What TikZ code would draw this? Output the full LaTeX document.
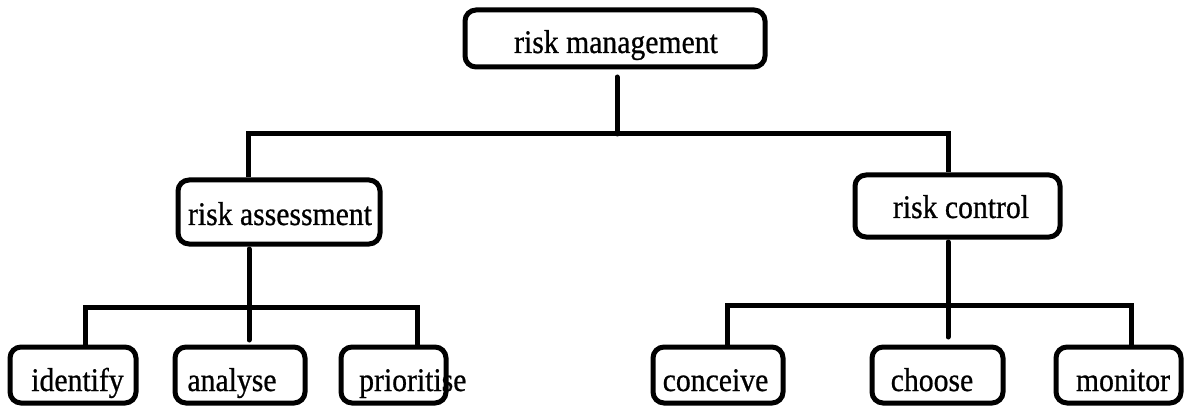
\documentclass[tikz,border=0pt]{standalone}
\usepackage{fontspec}
\setmainfont[FakeStretch=0.9,FakeBold=0.7]{Liberation Serif}
\begin{document}
\begin{tikzpicture}[x=1pt,y=-1pt,
  box/.style={draw, line width=5pt, rounded corners=11pt, inner sep=0pt},
  lbl/.style={inner sep=0pt, anchor=base, font=\fontsize{33}{38}\selectfont},
  link/.style={line width=5pt},
  wire/.style={link, line cap=round}]
\useasboundingbox (0,0) rectangle (1188,406);

% boxes
\node[box, minimum width=300pt, minimum height=57pt] (rm) at (615,38.5) {};
\node[box, minimum width=202pt, minimum height=64pt] (ra) at (279,212) {};
\node[box, minimum width=205pt, minimum height=62pt] (rc) at (957.5,206) {};
\node[box, minimum width=126pt, minimum height=56pt] (id) at (73,375) {};
\node[box, minimum width=130pt, minimum height=56pt] (an) at (240,375) {};
\node[box, minimum width=105pt, minimum height=56pt] (pr) at (393.5,375) {};
\node[box, minimum width=130pt, minimum height=56pt] (co) at (718,375) {};
\node[box, minimum width=131pt, minimum height=56pt] (ch) at (937.5,375) {};
\node[box, minimum width=125pt, minimum height=56pt] (mo) at (1118.5,375) {};

% labels
\node[lbl] (rmt) at (616,53) {risk management};
\node[lbl] (rat) at (280,225) {risk assessment};
\node[lbl] (rct) at (961,218) {risk control};
\node[lbl] (idt) at (77.5,391) {identify};
\node[lbl] (ant) at (232,391) {analyse};
\node[lbl, anchor=base west] (prt) at (359,391) {prioritise};
\node[lbl] (cot) at (715.5,391) {conceive};
\node[lbl] (cht) at (932,391) {choose};
\node[lbl] (mot) at (1123,391) {monitor};

% junction points
\coordinate (t0) at (617,77);
\coordinate (tb) at (617,134);
\coordinate (a0) at (249,249);
\coordinate (a1) at (249,340);
\coordinate (ab) at (249,307);
\coordinate (c0) at (948,242);
\coordinate (c1) at (948,337);
\coordinate (cb) at (948,305);

% top level
\draw[wire] (t0) -- (tb);
\draw[link] (ra.north -| 248,0) |- (tb) -| (rc.north -| 948,0);

% assessment branch
\draw[wire] (a0) -- (a1);
\draw[link] (id.north -| 85,0) |- (ab) -| (pr.north -| 417,0);

% control branch
\draw[wire] (c0) -- (c1);
\draw[link] (co.north -| 727,0) |- (cb) -| (mo.north -| 1131,0);
\end{tikzpicture}
\end{document}
